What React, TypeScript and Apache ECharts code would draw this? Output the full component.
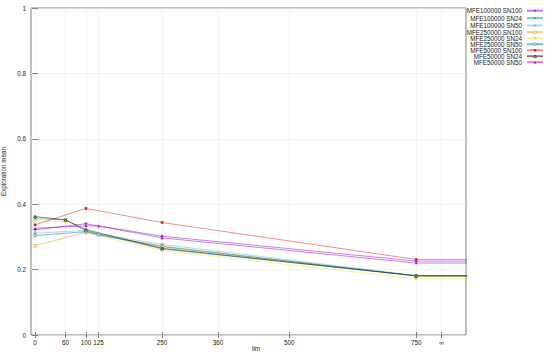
import React, { useEffect, useRef } from "react";
import * as echarts from "echarts";

const LIM_TICKS = [0, 60, 100, 125, 250, 360, 500, 750, 800];
const INF_TICK = 800;
const INF_X = 1000;
const Y_TICKS = [0, 0.2, 0.4, 0.6, 0.8, 1];

const X_SN24 = [0, 60, 100, 250, 750, INF_X];
const X_SN50 = [0, 100, 125, 250, 750, INF_X];
const X_SN100 = [0, 100, 250, 750, INF_X];

const NAMES = [
  "MFE100000 SN100",
  "MFE100000 SN24",
  "MFE100000 SN50",
  "MFE250000 SN100",
  "MFE250000 SN24",
  "MFE250000 SN50",
  "MFE50000 SN100",
  "MFE50000 SN24",
  "MFE50000 SN50",
];

const Y_MFE100000_SN100 = [0.322, 0.34, 0.302, 0.226, 0.226];
const Y_MFE100000_SN24 = [0.356, 0.352, 0.318, 0.263, 0.181, 0.181];
const Y_MFE100000_SN50 = [0.311, 0.32, 0.309, 0.277, 0.182, 0.182];
const Y_MFE250000_SN100 = [0.273, 0.314, 0.272, 0.18, 0.18];
const Y_MFE250000_SN24 = [0.35, 0.346, 0.312, 0.258, 0.172, 0.172];
const Y_MFE250000_SN50 = [0.304, 0.316, 0.306, 0.27, 0.181, 0.181];
const Y_MFE50000_SN100 = [0.337, 0.387, 0.344, 0.231, 0.231];
const Y_MFE50000_SN24 = [0.362, 0.352, 0.322, 0.265, 0.181, 0.181];
const Y_MFE50000_SN50 = [0.326, 0.334, 0.333, 0.297, 0.22, 0.22];

const SERIES_X = [X_SN100, X_SN24, X_SN50, X_SN100, X_SN24, X_SN50, X_SN100, X_SN24, X_SN50];
const SERIES_Y = [
  Y_MFE100000_SN100,
  Y_MFE100000_SN24,
  Y_MFE100000_SN50,
  Y_MFE250000_SN100,
  Y_MFE250000_SN24,
  Y_MFE250000_SN50,
  Y_MFE50000_SN100,
  Y_MFE50000_SN24,
  Y_MFE50000_SN50,
];

const COLORS = ["#9400d3", "#009e73", "#56b4e9", "#e69f00", "#f0e442", "#0072b2", "#e51e10", "#000000", "#9400d3"];
const PLUS = "path://M0,5L10,5M5,0L5,10";
const CROSS = "path://M0,0L10,10M10,0L0,10";
const STAR = "path://M0,5L10,5M5,0L5,10M1.5,1.5L8.5,8.5M8.5,1.5L1.5,8.5";
const SYMBOLS = [PLUS, CROSS, STAR, "rect", "rect", "circle", "rect", "triangle", "triangle"];
const HOLLOW = [false, false, false, true, false, true, false, true, false];

const FONT = "Liberation Sans, Arial, sans-serif";

export default function App() {
  const ref = useRef<HTMLDivElement>(null);
  useEffect(() => {
    if (!ref.current) return;
    const chart = echarts.init(ref.current, undefined, { renderer: "svg" });
    const series = NAMES.map((name, i) => {
      const isPath = SYMBOLS[i].startsWith("path://");
      return {
        name,
        type: "line",
        data: SERIES_X[i].map((x, j) => [x, SERIES_Y[i][j]]),
        symbol: SYMBOLS[i],
        symbolSize: isPath ? 3.5 : 2.6,
        showSymbol: true,
        clip: true,
        color: COLORS[i],
        lineStyle: { width: 1, opacity: 0.5, color: COLORS[i] },
        itemStyle: isPath
          ? { color: "none", borderColor: COLORS[i], borderWidth: 0.8 }
          : HOLLOW[i]
          ? { color: "#ffffff", borderColor: COLORS[i], borderWidth: 0.7 }
          : { color: COLORS[i], borderWidth: 0 },
        emphasis: { disabled: true },
        z: 2,
      };
    });
    chart.setOption({
      animation: false,
      backgroundColor: "#ffffff",
      textStyle: { fontFamily: FONT },
      grid: {
        left: 31,
        right: 84,
        top: 8,
        bottom: 23,
        outerBoundsMode: "none",
        containLabel: false,
        show: true,
        borderColor: "#808080",
        borderWidth: 1,
        backgroundColor: "transparent",
      },
      legend: {
        orient: "vertical",
        right: 6,
        top: 7,
        align: "right",
        itemWidth: 16,
        itemHeight: 3,
        itemGap: 0,
        padding: 0,
        itemStyle: { borderWidth: 0.6 },
        textStyle: { fontSize: 6.3, lineHeight: 6, color: "#222", fontFamily: FONT },
        data: NAMES,
      },
      xAxis: [
        {
          type: "value",
          min: -8,
          max: 848,
          axisLine: { show: false },
          axisTick: { show: true, inside: true, length: 3, customValues: LIM_TICKS, lineStyle: { color: "#808080" } },
          axisLabel: {
            customValues: LIM_TICKS,
            fontSize: 6.3,
            color: "#222",
            margin: 4,
            formatter: (v: number) => (v === INF_TICK ? "∞" : String(v)),
          },
          splitLine: { show: true, lineStyle: { color: "#ececec", width: 0.6 } },
        },
        {
          type: "value",
          position: "top",
          min: -8,
          max: 848,
          axisLine: { show: false },
          axisTick: { show: true, inside: true, length: 3, customValues: LIM_TICKS, lineStyle: { color: "#808080" } },
          axisLabel: { show: false, customValues: LIM_TICKS },
          splitLine: { show: false },
        },
      ],
      yAxis: [
        {
          type: "value",
          min: 0,
          max: 1,
          interval: 0.2,
          name: "Exploration mean",
          nameLocation: "middle",
          nameGap: 21,
          nameRotate: 90,
          nameTextStyle: { fontSize: 6.3, color: "#222" },
          axisLine: { show: false },
          axisTick: { show: true, inside: true, length: 3, lineStyle: { color: "#808080" } },
          axisLabel: {
            fontSize: 6.3,
            color: "#222",
            margin: 5,
            formatter: (v: number) => (Y_TICKS.includes(Math.round(v * 10) / 10) ? String(Math.round(v * 10) / 10) : ""),
          },
          splitLine: { show: true, lineStyle: { color: "#ececec", width: 0.6 } },
        },
        {
          type: "value",
          position: "right",
          min: 0,
          max: 1,
          interval: 0.2,
          axisLine: { show: false },
          axisTick: { show: true, inside: true, length: 3, lineStyle: { color: "#808080" } },
          axisLabel: { show: false },
          splitLine: { show: false },
        },
      ],
      graphic: [
        {
          type: "text",
          left: 252,
          top: 345,
          style: { text: "lim", fontSize: 6.3, fill: "#222", fontFamily: FONT },
        },
      ],
      series,
    });
    return () => chart.dispose();
  }, []);
  return (
    <div
      ref={ref}
      style={{ position: "fixed", left: 0, top: 0, width: 550, height: 358, background: "#fff" }}
    />
  );
}
